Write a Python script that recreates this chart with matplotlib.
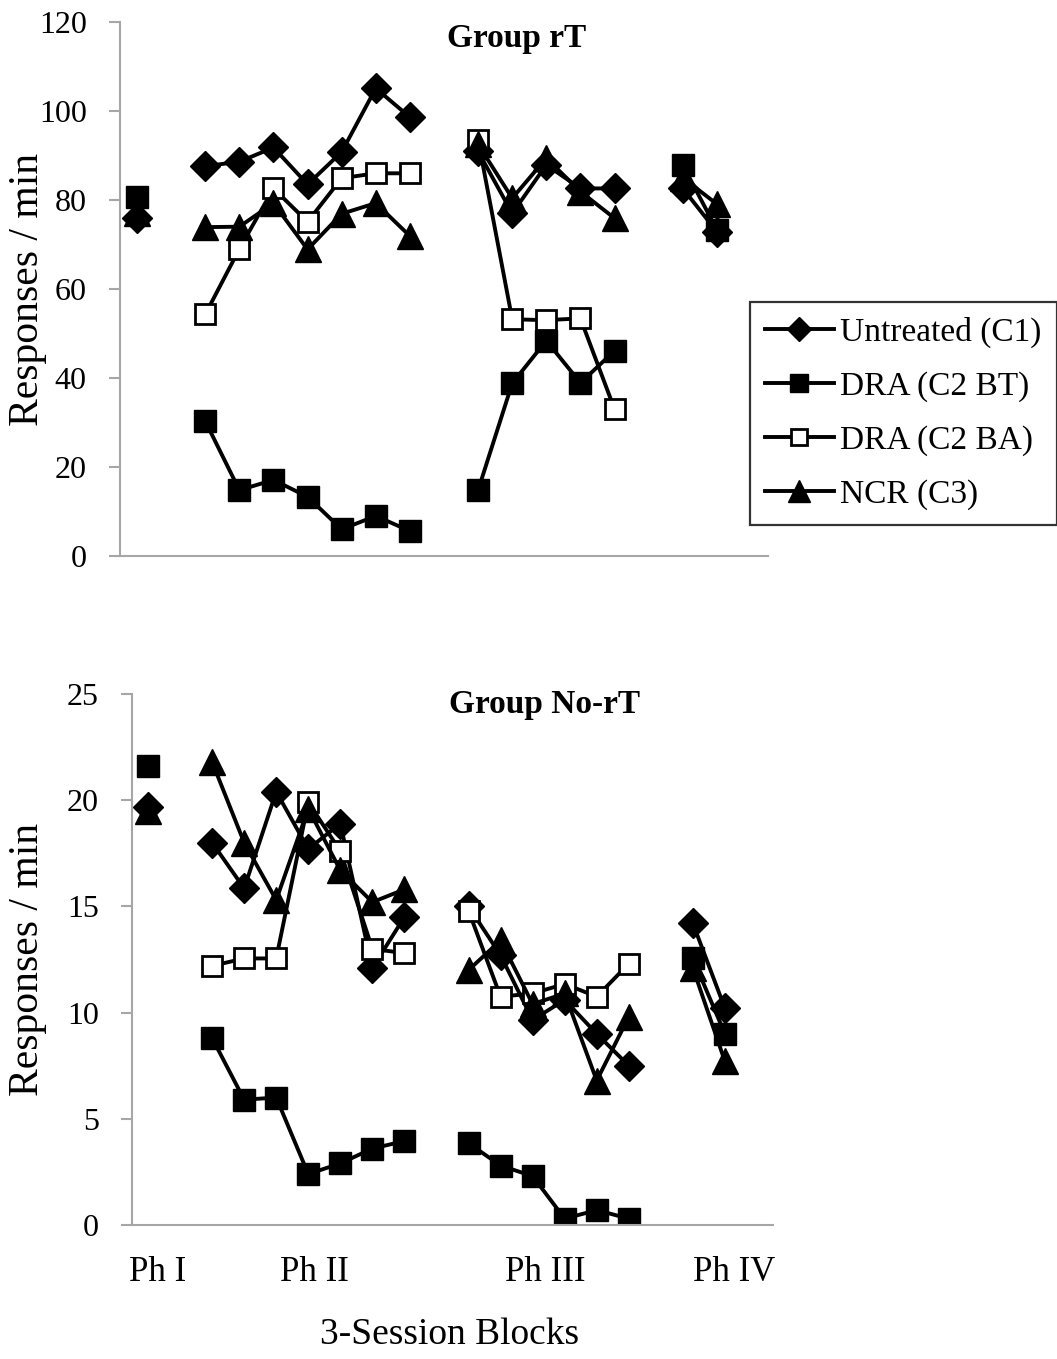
import numpy as np
import matplotlib
matplotlib.use('Agg')
import matplotlib.pyplot as plt

nan = np.nan

# Group rT (19 category slots: Ph I, gap, Ph II x7, gap, Ph III x5, gap, Ph IV x2, empty)
top_untreated = [76.0, nan, 87.6, 88.6, 91.8, 83.5, 90.8, 105.1, 98.6, nan,
                 90.9, 77.0, 87.9, 82.6, 82.6, nan, 82.6, 72.9, nan]
top_bt = [80.7, nan, 30.3, 14.8, 17.1, 13.3, 6.0, 9.0, 5.6, nan,
          14.8, 38.8, 48.4, 38.9, 46.1, nan, 87.9, 73.3, nan]
top_ba = [nan, nan, 54.3, 69.0, 82.6, 75.1, 84.9, 86.0, 86.0, nan,
          93.5, 53.2, 53.0, 53.4, 33.0, nan, nan, nan, nan]
top_ncr = [77.0, nan, 73.9, 74.0, 79.3, 68.9, 76.9, 79.3, 71.9, nan,
           92.5, 80.4, 89.4, 81.9, 75.9, nan, 85.0, 79.1, nan]

# Group No-rT (20 slots: Ph I, gap, Ph II x7, gap, Ph III x6, gap, Ph IV x2, empty)
bot_untreated = [19.7, nan, 18.0, 15.85, 20.4, 17.7, 18.9, 12.1, 14.5, nan,
                 15.0, 12.7, 9.65, 10.6, 9.0, 7.5, nan, 14.2, 10.2, nan]
bot_bt = [21.6, nan, 8.8, 5.9, 6.0, 2.4, 2.9, 3.6, 3.95, nan,
          3.85, 2.8, 2.3, 0.3, 0.7, 0.3, nan, 12.55, 9.0, nan]
bot_ba = [nan, nan, 12.2, 12.55, 12.55, 19.9, 17.6, 13.0, 12.8, nan,
          14.8, 10.75, 10.9, 11.35, 10.75, 12.3, nan, nan, nan, nan]
bot_ncr = [19.5, nan, 21.8, 18.0, 15.3, 19.6, 16.7, 15.2, 15.8, nan,
           12.0, 13.4, 10.4, 10.9, 6.8, 9.8, nan, 12.1, 7.7, nan]

series_names = ['Untreated (C1)', 'DRA (C2 BT)', 'DRA (C2 BA)', 'NCR (C3)']
phase_labels = ['Ph I', 'Ph II', 'Ph III', 'Ph IV']
phase_label_pos = [0.3, 5.2, 12.4, 18.3]

plt.rcParams['font.family'] = ['Liberation Serif', 'DejaVu Serif']

W, H = 1057, 1359
fig = plt.figure(figsize=(W / 100, H / 100), dpi=100)

ax1 = fig.add_axes([120 / W, 1 - 556 / H, 648 / W, 534 / H])
ax2 = fig.add_axes([132 / W, 1 - 1225 / H, 641 / W, 531 / H])

styles = [dict(marker='D', ms=15, mfc='black', mec='black'),
          dict(marker='s', ms=16, mfc='black', mec='black'),
          dict(marker='s', ms=15, mfc='white', mec='black', mew=2),
          dict(marker='^', ms=19, mfc='black', mec='black')]


def draw(ax, data, n):
    x = np.arange(n)
    lines = []
    for vals, st, name in zip(data, styles, series_names):
        ln, = ax.plot(x, vals, color='black', lw=2.8, label=name, **st)
        lines.append(ln)
    ax.set_xlim(-0.5, n - 0.5)
    for s in ['top', 'right']:
        ax.spines[s].set_visible(False)
    for s in ['left', 'bottom']:
        ax.spines[s].set_color('#a6a6a6')
        ax.spines[s].set_linewidth(1.5)
    ax.tick_params(axis='y', colors='#a6a6a6', length=8, width=1.5,
                   labelsize=23, labelcolor='black', pad=16)
    ax.tick_params(axis='x', length=0)
    ax.set_ylabel('Responses / min', fontsize=30)
    return lines


lines = draw(ax1, [top_untreated, top_bt, top_ba, top_ncr], 19)
ax1.set_ylim(0, 120)
ax1.set_yticks(range(0, 121, 20))
ax1.set_xticks([])
ax1.yaxis.set_label_coords(-0.113, 0.5)

draw(ax2, [bot_untreated, bot_bt, bot_ba, bot_ncr], 20)
ax2.set_ylim(0, 25)
ax2.set_yticks(range(0, 26, 5))
ax2.set_xticks(phase_label_pos)
ax2.set_xticklabels(phase_labels, fontsize=25)
ax2.tick_params(axis='x', pad=22)
ax2.yaxis.set_label_coords(-0.133, 0.5)

fig.text(517 / W, 1 - 38 / H, 'Group rT', fontsize=24, fontweight='bold',
         ha='center', va='center')
fig.text(545 / W, 1 - 705 / H, 'Group No-rT', fontsize=24, fontweight='bold',
         ha='center', va='center')
fig.text(450 / W, 1 - 1335 / H, '3-Session Blocks', fontsize=27,
         ha='center', va='center')

leg = fig.legend(handles=lines, loc='center',
                 bbox_to_anchor=(903.5 / W, 1 - 413.5 / H),
                 fontsize=24, frameon=True, fancybox=False, edgecolor='black',
                 handlelength=2.05, handletextpad=0.2, labelspacing=0.7,
                 borderpad=0.45, markerscale=0.8)
leg.get_frame().set_linewidth(1.6)

fig.savefig('out.png', dpi=100)
